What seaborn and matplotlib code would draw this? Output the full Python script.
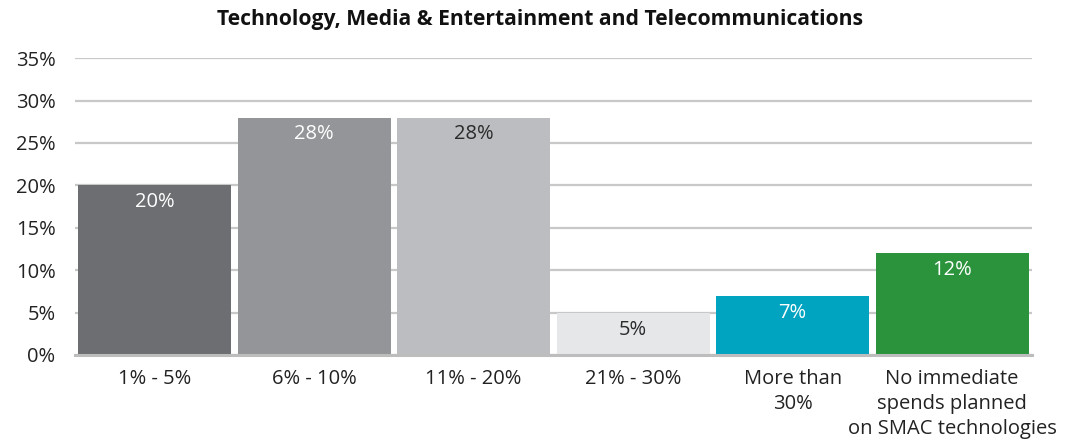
import matplotlib
matplotlib.use("Agg")
import matplotlib.pyplot as plt
import seaborn as sns
import pandas as pd

# Share of respondents by planned SMAC spend
categories = ["1% - 5%", "6% - 10%", "11% - 20%", "21% - 30%",
              "More than\n30%", "No immediate\nspends planned\non SMAC technologies"]
values = [20, 28, 28, 5, 7, 12]
bar_colors = ["#6d6e71", "#939598", "#bcbdc0", "#e6e7e8", "#00a3c0", "#2a933c"]
label_colors = ["white", "white", "#2b2b2b", "#2b2b2b", "white", "white"]
y_ticks = [0, 5, 10, 15, 20, 25, 30, 35]
title = "Technology, Media & Entertainment and Telecommunications"

sns.set_theme(style="white")
plt.rcParams["font.family"] = ["Open Sans", "DejaVu Sans"]

df = pd.DataFrame({"category": categories, "value": values})

fig = plt.figure(figsize=(10.67, 4.44), dpi=100)
ax = fig.add_axes([0.0703, 0.2005, 0.8967, 0.6685])

sns.barplot(data=df, x="category", y="value", hue="category",
            palette=bar_colors, width=0.96, legend=False, ax=ax,
            saturation=1, linewidth=0, zorder=2)

ax.set_ylim(0, 35)
ax.set_xlim(-0.5, len(categories) - 0.5)
ax.set_yticks(y_ticks)
ax.set_yticklabels([f"{t}%" for t in y_ticks], fontsize=14.5, color="#222222")
ax.tick_params(axis="y", length=0, pad=14)
ax.tick_params(axis="x", length=0, pad=10, labelsize=14.5, labelcolor="#222222")
for lbl in ax.get_xticklabels():
    lbl.set_linespacing(1.35)
ax.set_xlabel("")
ax.set_ylabel("")

ax.yaxis.grid(True, color="#c8c8c8", linewidth=1.6, zorder=0)
ax.set_axisbelow(True)
for side in ["top", "right", "left"]:
    ax.spines[side].set_visible(False)
ax.spines["bottom"].set_color("#bdbdbd")
ax.spines["bottom"].set_linewidth(2.2)

for i, (v, c) in enumerate(zip(values, label_colors)):
    ax.annotate(f"{v}%", (i, v), xytext=(0, -5), textcoords="offset points",
                ha="center", va="top", fontsize=14.5, color=c)

fig.text(0.506, 0.955, title, ha="center", va="center",
         fontsize=15.2, fontweight="bold", color="#111111")

fig.savefig("out.png", dpi=100)
